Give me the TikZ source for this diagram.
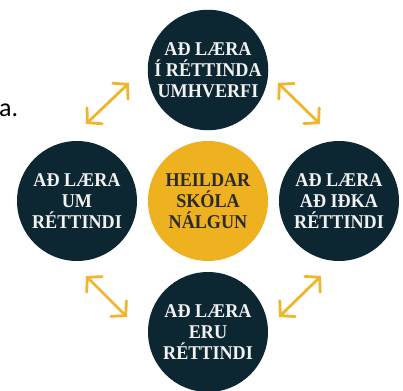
\documentclass[tikz,border=0pt]{standalone}
\usepackage{fontspec}
\setmainfont{Liberation Serif}[FakeStretch=0.93]
\newfontfamily\calib{Carlito}
\usetikzlibrary{arrows.meta}
\definecolor{darkc}{HTML}{0C2731}
\definecolor{goldc}{HTML}{EEB120}
\definecolor{arrc}{HTML}{F1B52B}
\definecolor{lightt}{HTML}{F2F2F2}
\definecolor{darkt}{HTML}{2A2A2A}
\tikzset{
  circ/.style={circle, fill=darkc, minimum size=120pt, inner sep=0pt, text=lightt,
    font=\fontsize{19.5pt}{21pt}\selectfont\bfseries, align=center},
  midcirc/.style={circ, fill=goldc, text=darkt},
  arr/.style={draw=arrc, line width=2.8pt, line cap=round,
    {Straight Barb[length=10pt,width=22pt,line cap=round]}-{Straight Barb[length=10pt,width=22pt,line cap=round]}},
}
\begin{document}
\begin{tikzpicture}[x=1pt,y=1pt]
\useasboundingbox (0,0) rectangle (403,-390);
\node[anchor=base west, font=\calib\fontsize{26pt}{30pt}\selectfont, inner sep=0pt] (frag) at (-1,-117) {a.};
\node[circ] (top) at (208,-70) {AÐ LÆRA\\Í RÉTTINDA\\UMHVERFI};
\node[circ] (left) at (77,-201) {AÐ LÆRA\\UM\\RÉTTINDI};
\node[midcirc] (mid) at (208,-201) {HEILDAR\\SKÓLA\\NÁLGUN};
\node[circ] (right) at (339,-201) {AÐ LÆRA\\AÐ IÐKA\\RÉTTINDI};
\node[circ] (bot) at (208,-332) {AÐ LÆRA\\ERU\\RÉTTINDI};
\coordinate (tl1) at (86,-124);
\coordinate (tl2) at (129,-83);
\coordinate (tr1) at (278,-83);
\coordinate (tr2) at (320,-124);
\coordinate (bl1) at (86,-276);
\coordinate (bl2) at (127,-317);
\coordinate (br1) at (279,-317);
\coordinate (br2) at (321,-276);
\draw[arr] (tl1) -- (tl2);
\draw[arr] (tr1) -- (tr2);
\draw[arr] (bl1) -- (bl2);
\draw[arr] (br1) -- (br2);
\end{tikzpicture}
\end{document}
